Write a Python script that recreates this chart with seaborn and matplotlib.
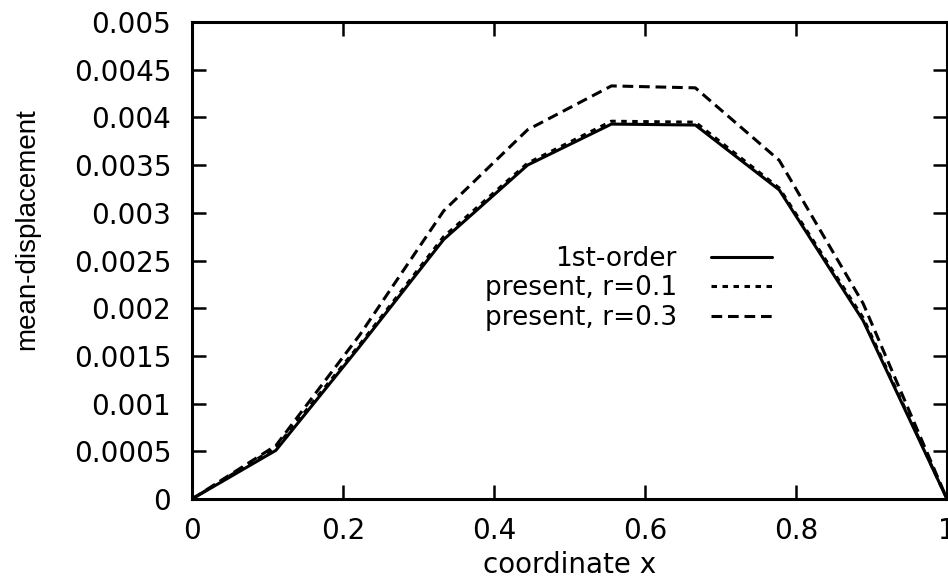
import numpy as np
import pandas as pd
import matplotlib
matplotlib.use("Agg")
import matplotlib.pyplot as plt
import seaborn as sns

# ---- data ----
x_coord = [0.0, 1/9, 2/9, 3/9, 4/9, 5/9, 6/9, 7/9, 8/9, 1.0]
first_order = [0.0, 0.00051, 0.00160, 0.00272, 0.00350, 0.00393, 0.00392, 0.00324, 0.00187, 0.0]
present_r01 = [0.0, 0.00054, 0.00162, 0.00275, 0.00352, 0.00396, 0.00395, 0.00326, 0.00190, 0.0]
present_r03 = [0.0, 0.00056, 0.00172, 0.00302, 0.00387, 0.00433, 0.00431, 0.00355, 0.00205, 0.0]
series_names = ["1st-order", "present, r=0.1", "present, r=0.3"]

xticks = [0, 0.2, 0.4, 0.6, 0.8, 1.0]
xtick_labels = ["0", "0.2", "0.4", "0.6", "0.8", "1"]
yticks = [0, 0.0005, 0.001, 0.0015, 0.002, 0.0025, 0.003, 0.0035, 0.004, 0.0045, 0.005]
ytick_labels = ["0", "0.0005", "0.001", "0.0015", "0.002", "0.0025",
                "0.003", "0.0035", "0.004", "0.0045", "0.005"]

sns.set_style("ticks")
plt.rcParams["font.family"] = ["DejaVu Sans"]
plt.rcParams["text.color"] = "black"
plt.rcParams["axes.labelcolor"] = "black"
plt.rcParams["xtick.color"] = "black"
plt.rcParams["ytick.color"] = "black"

fig = plt.figure(figsize=(9.48, 5.81), dpi=100)
ax = fig.add_axes([192/948, 1 - 499/581, (947 - 192)/948, (499 - 22)/581])

styles = {
    "1st-order": "-",
    "present, r=0.1": (0, (1.8, 1.8)),
    "present, r=0.3": (0, (3.5, 1.9)),
}
values = {"1st-order": first_order, "present, r=0.1": present_r01, "present, r=0.3": present_r03}
draw_order = ["present, r=0.3", "1st-order", "present, r=0.1"]
for name in draw_order:
    df = pd.DataFrame({"x": x_coord, "y": values[name]})
    sns.lineplot(data=df, x="x", y="y", ax=ax, color="black", linewidth=2.2,
                 linestyle=styles[name], label=name, errorbar=None, sort=False)

ax.set_xlim(0, 1)
ax.set_ylim(0, 0.005)
ax.set_xticks(xticks)
ax.set_xticklabels(xtick_labels)
ax.set_yticks(yticks)
ax.set_yticklabels(ytick_labels)
ax.tick_params(axis="both", which="major", direction="in", length=10, width=1.8,
               top=True, right=True, labelsize=20, color="black", labelcolor="black")
ax.tick_params(axis="x", pad=13)
ax.tick_params(axis="y", pad=15)
for sp in ax.spines.values():
    sp.set_visible(True)
    sp.set_linewidth(2.2)
    sp.set_color("black")

ax.set_xlabel("coordinate x", fontsize=20, va="center", color="black")
ax.xaxis.set_label_coords(0.5, (499 - 565) / 477)
ax.set_ylabel("mean-displacement", fontsize=20, family=["Liberation Sans"], va="center",
              color="black")
ax.yaxis.set_label_coords((27 - 192) / 755, (499 - 229) / 477)

handles, labels = ax.get_legend_handles_labels()
hmap = dict(zip(labels, handles))
leg = ax.legend([hmap[n] for n in series_names], series_names, loc="upper right",
                bbox_to_anchor=((772 - 192) / 755, (499 - 246) / 477),
                frameon=False, markerfirst=False, fontsize=19, borderpad=0,
                borderaxespad=0, handlelength=2.3, handletextpad=1.3, labelspacing=0.13,
                labelcolor="black")

fig.savefig("out.png", dpi=100)
